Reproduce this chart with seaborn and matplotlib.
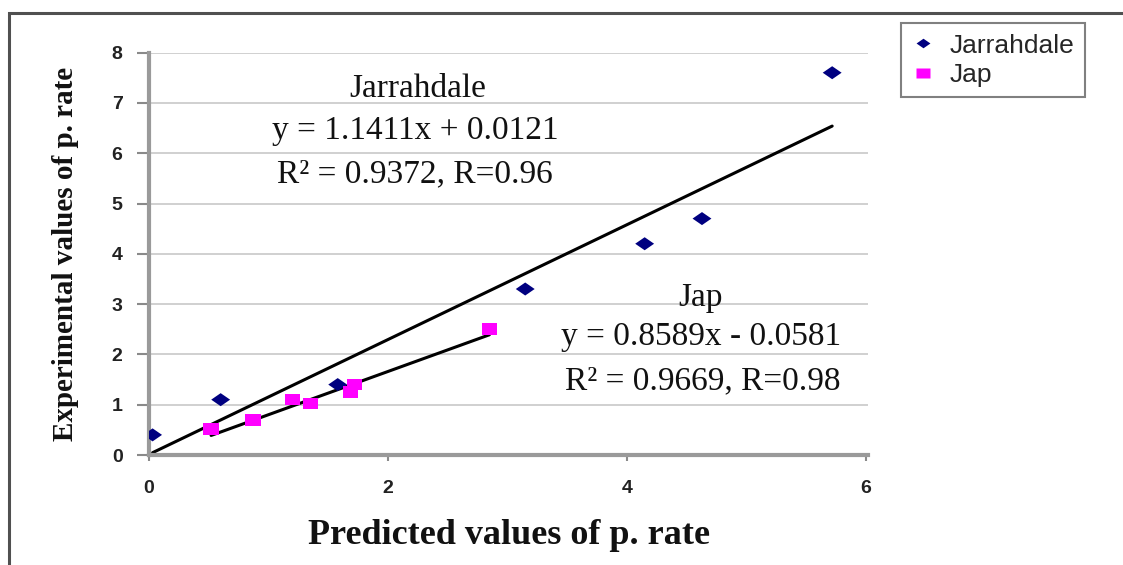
import numpy as np
import pandas as pd
import matplotlib
matplotlib.use("Agg")
import matplotlib.pyplot as plt
from matplotlib.patches import Rectangle
import seaborn as sns

# ---- data ----
jarr_x = [0.03, 0.60, 1.58, 3.15, 4.15, 4.63, 5.72]
jarr_y = [0.40, 1.10, 1.40, 3.30, 4.20, 4.70, 7.60]
jap_x = [0.52, 0.87, 1.20, 1.35, 1.69, 1.72, 2.85]
jap_y = [0.52, 0.70, 1.10, 1.02, 1.25, 1.40, 2.50]
series_names = ["Jarrahdale", "Jap"]
slopes = [1.1411, 0.8589]
intercepts = [0.0121, -0.0581]
eq_texts = ["y = 1.1411x + 0.0121", "y = 0.8589x - 0.0581"]
r_texts = ["R² = 0.9372, R=0.96", "R² = 0.9669, R=0.98"]
x_ticks = [0, 2, 4, 6]
y_ticks = [0, 1, 2, 3, 4, 5, 6, 7, 8]

sns.set_theme(style="white")
plt.rcParams['font.family'] = ['Liberation Sans', 'DejaVu Sans']

df = pd.DataFrame({
    "x": jarr_x + jap_x,
    "y": jarr_y + jap_y,
    "series": [series_names[0]] * len(jarr_x) + [series_names[1]] * len(jap_x),
})

# trendline endpoints from the data range and the printed coefficients
rows = []
for name, xs, m, b in zip(series_names, [jarr_x, jap_x], slopes, intercepts):
    for xv in (min(xs), max(xs)):
        rows.append({"x": xv, "y": m * xv + b, "series": name})
trend = pd.DataFrame(rows)

# horizontally stretched marker shapes (like the reference)
wide_diamond = [(-1.45, 0), (0, 1), (1.45, 0), (0, -1), (-1.45, 0)]
wide_square = [(-1.25, -0.95), (1.25, -0.95), (1.25, 0.95), (-1.25, 0.95), (-1.25, -0.95)]

fig = plt.figure(figsize=(11.23, 5.65), dpi=100)
ax = fig.add_axes([149 / 1123, 110 / 565, 719 / 1123, 402.4 / 565])

ax.set_xlim(0, 6.02)
ax.set_ylim(0, 8)
ax.set_yticks(y_ticks)
ax.set_xticks(x_ticks)
ax.yaxis.grid(True, color="#c8c8c8", linewidth=1.2)
ax.xaxis.grid(False)
ax.set_axisbelow(True)

sns.lineplot(data=trend, x="x", y="y", units="series", estimator=None,
             color="black", linewidth=2.2, ax=ax, legend=False)
sns.scatterplot(data=df, x="x", y="y", hue="series", style="series",
                size="series",
                sizes={"Jarrahdale": 185, "Jap": 120},
                markers={"Jarrahdale": wide_diamond, "Jap": wide_square},
                palette={"Jarrahdale": "#000080", "Jap": "#ff00ff"},
                edgecolor="none", ax=ax, legend=True, zorder=3)

for side in ("top", "right"):
    ax.spines[side].set_visible(False)
for side in ("left", "bottom"):
    ax.spines[side].set_color("#9a9a9a")
    ax.spines[side].set_linewidth(3)

ax.tick_params(axis="y", which="major", left=True, length=9, width=1.5,
               color="#8a8a8a", pad=10, labelsize=14, labelcolor="#222222")
ax.tick_params(axis="x", which="major", bottom=True, length=4, width=1.5,
               color="#8a8a8a", pad=14, labelsize=14, labelcolor="#222222")
for lbl in ax.get_xticklabels() + ax.get_yticklabels():
    lbl.set_fontweight("bold")

ax.set_xlabel("Predicted values of p. rate", fontsize=26, fontweight="bold",
              family="Liberation Serif", color="#111111")
ax.set_ylabel("Experimental values of p. rate", fontsize=21, fontweight="bold",
              family="Liberation Serif", color="#111111")
ax.xaxis.set_label_coords(0.5, -0.16)
ax.yaxis.set_label_coords(-0.098, 0.5)

# annotations
txt_kw = dict(family="Liberation Serif", fontsize=24, color="#111111",
              ha="center", va="center", clip_on=False)
ax.text(2.25, 7.28, series_names[0], **txt_kw)
ax.text(2.23, 6.45, eq_texts[0], **txt_kw)
ax.text(2.23, 5.58, r_texts[0], **txt_kw)
ax.text(4.62, 3.12, series_names[1], **txt_kw)
ax.text(4.62, 2.36, eq_texts[1], **txt_kw)
ax.text(4.64, 1.47, r_texts[1], **txt_kw)

# legend at top right
handles, labels = ax.get_legend_handles_labels()
ax.get_legend().remove()
for h in handles:
    h.set_markersize(10)
leg = fig.legend(handles, labels, loc="upper left",
                 bbox_to_anchor=(901 / 1123, 1 - 23 / 565),
                 bbox_transform=fig.transFigure, frameon=True, fancybox=False,
                 edgecolor="#808080", framealpha=1, fontsize=19,
                 handlelength=0.9, handletextpad=0.55, borderpad=0.4,
                 borderaxespad=0, labelspacing=0.2)
leg.get_frame().set_linewidth(1.5)

# outer chart frame (cropped on right and bottom)
fig.patches.append(Rectangle((9 / 1123, -0.05), 1.2, 1 - 13 / 565 + 0.05,
                             transform=fig.transFigure, fill=False,
                             edgecolor="#505050", linewidth=2.2))

fig.savefig("out.png", dpi=100)
